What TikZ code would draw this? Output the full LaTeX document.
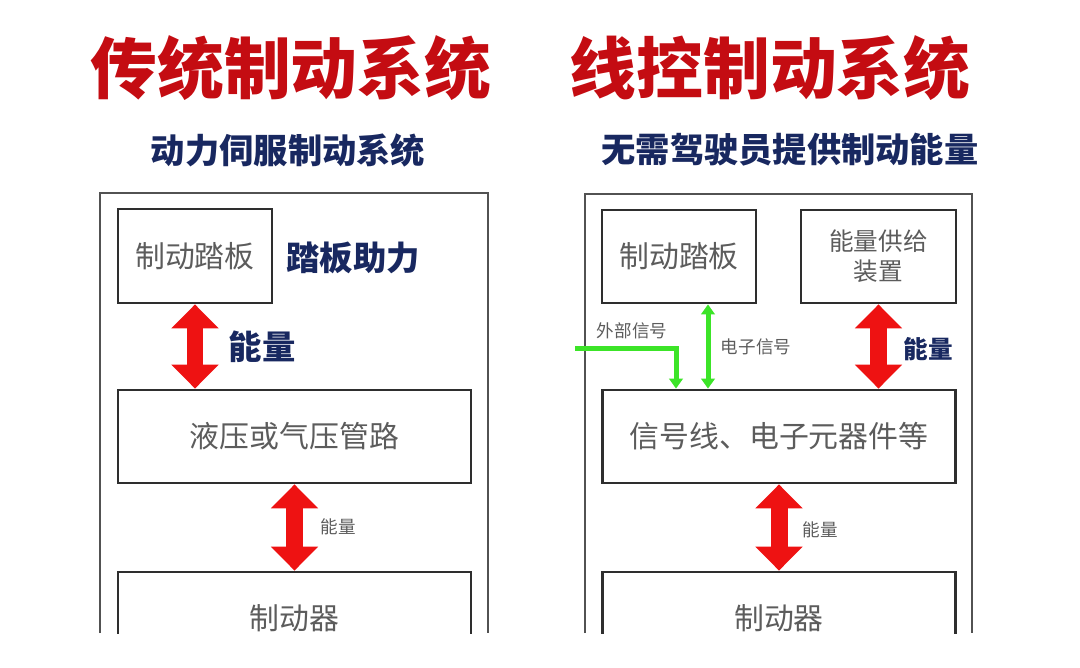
\documentclass[tikz,border=0pt]{standalone}
\usepackage{fontspec}
\setmainfont{Noto Sans CJK SC}
\usetikzlibrary{positioning,arrows.meta}
\definecolor{titlered}{RGB}{196,12,18}
\definecolor{navy}{RGB}{24,40,96}
\definecolor{boxgrey}{RGB}{92,92,92}
\definecolor{arrowred}{RGB}{238,18,18}
\definecolor{siggreen}{RGB}{60,228,40}
\tikzstyle{box} = [draw=black!82, line width=1.6pt, rectangle, inner sep=0pt, text=boxgrey, font=\fontsize{17}{20}\selectfont]
\tikzstyle{title} = [text=titlered, font=\fontsize{38}{44}\selectfont\bfseries]
\tikzstyle{subtitle} = [text=navy, font=\fontsize{19.5}{23}\selectfont\bfseries]
\tikzstyle{note} = [text=navy, font=\fontsize{19}{22}\selectfont\bfseries]
\tikzstyle{small} = [text=boxgrey, font=\fontsize{10}{12}\selectfont]
\tikzstyle{frame} = [draw=black!68, line width=1.6pt]
\tikzstyle{power} = [draw=arrowred, line width=0.34cm, {Triangle[length=0.48cm,width=0.92cm]}-{Triangle[length=0.48cm,width=0.92cm]}]
\tikzstyle{signal} = [draw=siggreen, line width=0.1cm, -{Triangle[length=0.2cm,width=0.27cm]}]
\tikzstyle{signals} = [signal, {Triangle[length=0.2cm,width=0.27cm]}-{Triangle[length=0.2cm,width=0.27cm]}]

\begin{document}
\begin{tikzpicture}[x=0.02cm,y=-0.02cm]
	\useasboundingbox (0,0) rectangle (1080,667);
	\node (ltitle) [title] at (291,68) {传统制动系统};
	\node (rtitle) [title] at (770,68) {线控制动系统};
	\node (lsub) [subtitle] at (288,150) {动力伺服制动系统};
	\node (rsub) [subtitle] at (790,150) {无需驾驶员提供制动能量};

	\draw[frame] (100,633) -- (100,193) -- (488,193) -- (488,633);
	\draw[frame] (585,633) -- (585,194) -- (972,194) -- (972,633);

	\node (lpedal) [box, minimum width=3.08cm, minimum height=1.88cm] at (195,256) {制动踏板};
	\node (lpipe) [box, minimum width=7.06cm, minimum height=1.86cm] at (294.5,436.5) {液压或气压管路};
	\node (lbrake) [box, minimum width=7.06cm, minimum height=1.84cm] at (294.5,618) {制动器};
	\node (lboost) [note] at (353,258) {踏板助力};
	\node (le1) [note] at (262,347) {能量};
	\node (le2) [small] at (338,527) {能量};
	\draw[power] (lpedal.south) -- (lpedal.south |- lpipe.north);
	\draw[power] (lpipe.south) -- (lbrake.north);

	\node (rpedal) [box, minimum width=3.08cm, minimum height=1.86cm] at (679,256.5) {制动踏板};
	\node (rsupply) [box, minimum width=3.1cm, minimum height=1.86cm, align=center, font=\fontsize{14}{17}\selectfont] at (878.5,256.5) {能量供给\\装置};
	\node (rbus) [box, minimum width=7.06cm, minimum height=1.86cm] at (779,436.5) {信号线、电子元器件等};
	\node (rbrake) [box, minimum width=7.06cm, minimum height=1.84cm] at (779,618) {制动器};
	\node (re1) [note, font=\fontsize{14}{17}\selectfont\bfseries] at (928,349) {能量};
	\node (re2) [small] at (820,530) {能量};
	\draw[power] (rsupply.south) -- (rsupply.south |- rbus.north);
	\draw[power] (rbus.south) -- (rbrake.north);

	\coordinate (esig) at (708,300);
	\coordinate (ext) at (575,348);
	\coordinate (extin) at (676,390);
	\node (esiglbl) [small] at (756,347) {电子信号};
	\node (extlbl) [small] at (632,331) {外部信号};
	\draw[signals] (esig |- rpedal.south) -- (esig |- rbus.north);
	\draw[signal] (ext) -| (extin |- rbus.north);

	\fill[white] (0,634) rectangle (1080,668);
\end{tikzpicture}
\end{document}
